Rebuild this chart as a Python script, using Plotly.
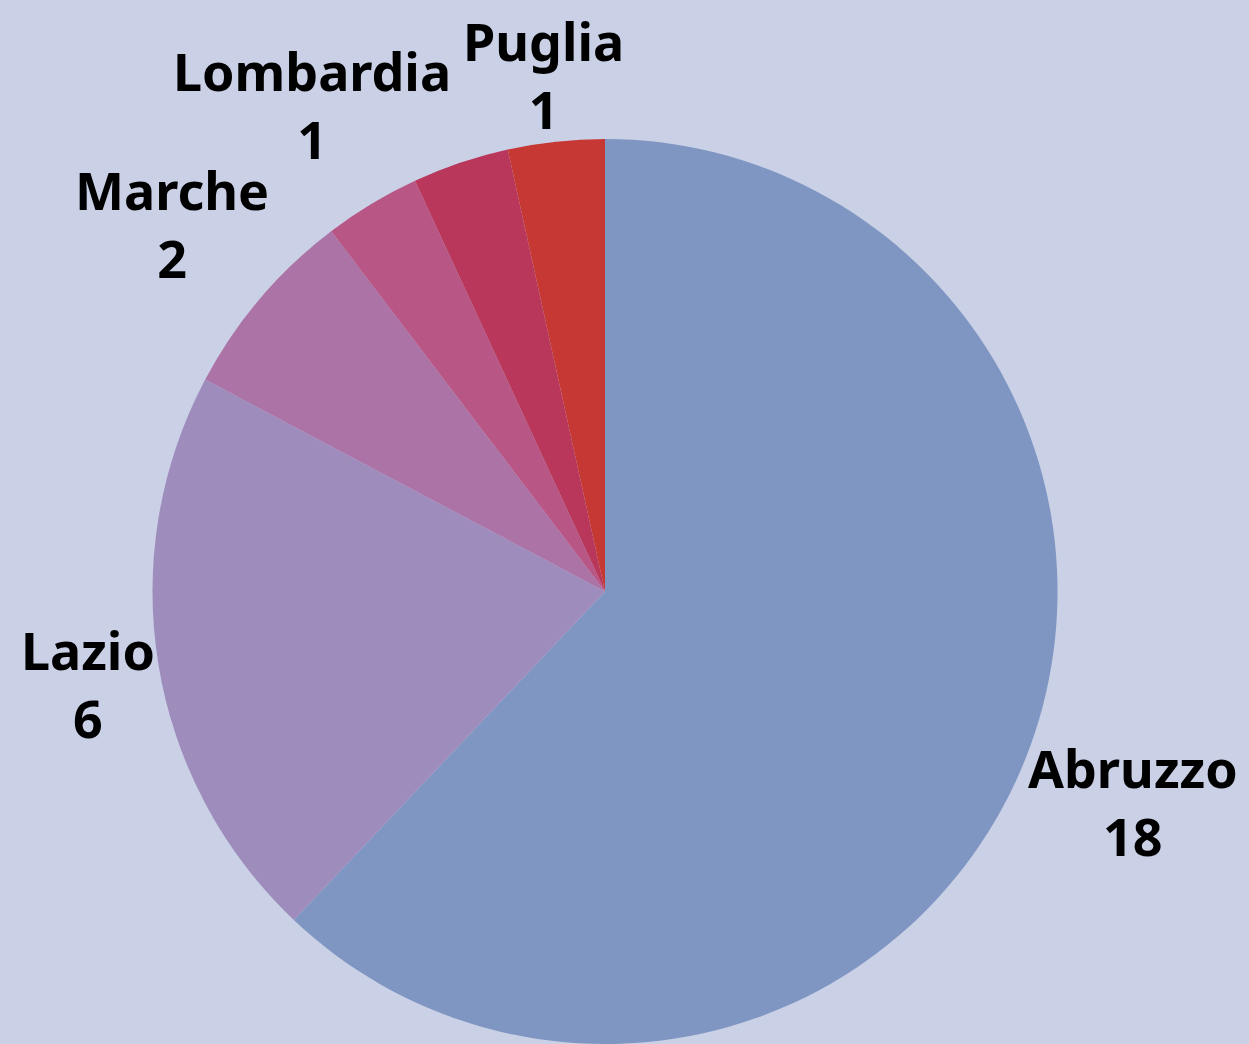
import math
import plotly.graph_objects as go

regions = ["Abruzzo", "Lazio", "Marche", "Lombardia", "Molise", "Puglia"]
counts = [18, 6, 2, 1, 1, 1]
show_label = [True, True, True, True, False, True]
colors = ["#7F96C2", "#9E8CBC", "#AB73A6", "#B85785", "#B8375B", "#C63834"]

W, H = 1249, 1044
BG = "#CAD0E5"
FONT = "Noto Sans"
FSIZE = 52

dom_x = [0.1217, 0.8471]
dom_y = [0.0, 0.8669]

fig = go.Figure(go.Pie(
    labels=regions,
    values=counts,
    textinfo="none",
    sort=False,
    direction="clockwise",
    rotation=0,
    marker=dict(colors=colors, line=dict(width=0)),
    showlegend=False,
    hoverinfo="label+value",
    domain=dict(x=dom_x, y=dom_y),
))

# pie geometry in pixels (margins are zero)
cx = W * (dom_x[0] + dom_x[1]) / 2
cy = H * (1 - (dom_y[0] + dom_y[1]) / 2)
r = min(W * (dom_x[1] - dom_x[0]), H * (dom_y[1] - dom_y[0])) / 2
label_r = r * 1.256
line_h = 1.3 * FSIZE
pad = 19

total = sum(counts)
cum = 0.0
annotations = []
for name, val, show in zip(regions, counts, show_label):
    mid = (cum + val / 2) / total * 2 * math.pi
    cum += val
    if not show:
        continue
    lx = cx + label_r * math.sin(mid)
    ly = cy - label_r * math.cos(mid)
    est_half_w = 0.52 * FSIZE * max(len(name), len(str(val))) / 2
    xanchor = "center"
    if lx - est_half_w < 0:
        lx, xanchor = pad, "left"
    elif lx + est_half_w > W:
        lx, xanchor = W - pad, "right"
    block_half = line_h / 2 + 0.36 * FSIZE
    if ly - block_half < 0:
        ly = pad + 3 + block_half
    annotations.append(dict(
        text=f"<b>{name}</b><br><b>{val}</b>", x=lx / W, y=1 - ly / H,
        xref="paper", yref="paper", xanchor=xanchor, yanchor="middle",
        showarrow=False, align="center",
        font=dict(family=FONT, size=FSIZE, color="#000000"),
    ))

fig.update_layout(
    width=W, height=H,
    margin=dict(l=0, r=0, t=0, b=0),
    paper_bgcolor=BG,
    plot_bgcolor=BG,
    font=dict(family=FONT, color="#000000"),
    annotations=annotations,
)

fig.write_html(
    "out.html",
    config={"displayModeBar": False},
    post_script="document.body.style.margin='0';document.body.style.overflow='hidden';",
)
